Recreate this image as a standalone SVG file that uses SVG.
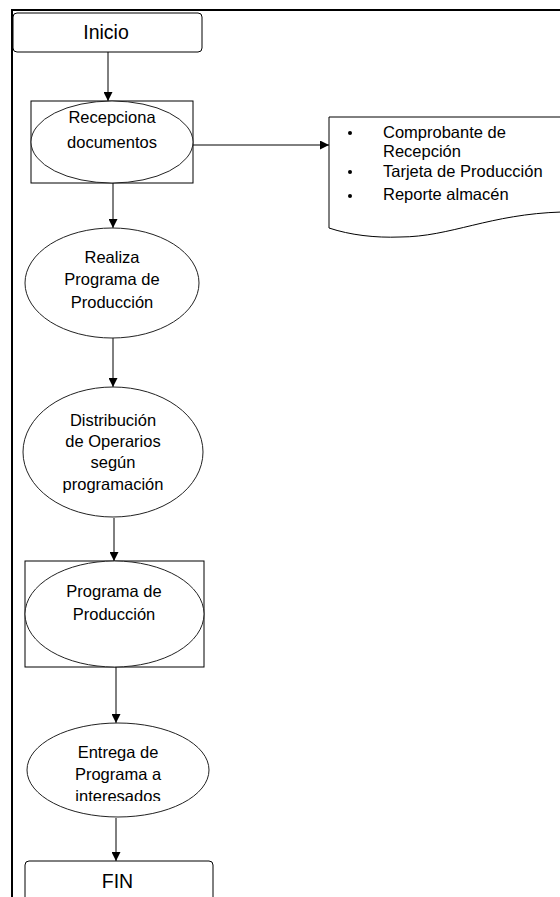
<svg xmlns="http://www.w3.org/2000/svg" width="560" height="897" viewBox="0 0 560 897">
  <style>
    .frame { fill: none; stroke: #000; stroke-width: 2; }
    .box { fill: #fff; stroke: #000; stroke-width: 1; }
    .ell { fill: #fff; stroke: #222; stroke-width: 1; }
    .conn { fill: none; stroke: #000; stroke-width: 1; }
    .txt { font-family: "Liberation Sans", Arial, sans-serif; font-size: 16.5px; fill: #000; text-anchor: middle; }
    .big { font-size: 19.5px; }
    .lst { text-anchor: start; }
  </style>
  <defs>
    <marker id="arrow" viewBox="0 0 10 10" refX="10" refY="5" markerWidth="9" markerHeight="9" markerUnits="userSpaceOnUse" orient="auto">
      <path d="M0,0 L10,5 L0,10 Z" fill="#000"/>
    </marker>
    <clipPath id="clipDist"><rect x="0" y="380" width="240" height="113"/></clipPath>
    <clipPath id="clipEnt"><rect x="0" y="720" width="240" height="81"/></clipPath>
  </defs>
  <rect width="560" height="897" fill="#fff"/>

  <!-- outer frame -->
  <path class="frame" d="M12,900 V10 H562"/>

  <!-- connectors -->
  <g id="connectors">
    <line class="conn" x1="108" y1="52" x2="108" y2="101" marker-end="url(#arrow)"/>
    <line class="conn" x1="193" y1="145" x2="329" y2="145" marker-end="url(#arrow)"/>
    <line class="conn" x1="113" y1="183" x2="113" y2="228" marker-end="url(#arrow)"/>
    <line class="conn" x1="113" y1="338" x2="113" y2="387" marker-end="url(#arrow)"/>
    <line class="conn" x1="114" y1="518" x2="114" y2="561" marker-end="url(#arrow)"/>
    <line class="conn" x1="116" y1="667" x2="116" y2="723" marker-end="url(#arrow)"/>
    <line class="conn" x1="116" y1="818" x2="116" y2="861" marker-end="url(#arrow)"/>
  </g>

  <g id="inicio">
    <rect class="box" x="13" y="13" width="189" height="39" rx="4"/>
    <text class="txt big" x="106" y="39">Inicio</text>
  </g>

  <g id="recepciona">
    <rect class="box" x="31" y="101" width="162" height="82"/>
    <ellipse class="ell" cx="112" cy="142" rx="81" ry="41"/>
    <text class="txt" x="112" y="123">Recepciona</text>
    <text class="txt" x="112" y="148">documentos</text>
  </g>

  <g id="documento">
    <path class="box" d="M329,117 H562 V212 C490,214 450,237 400,237 C375,238 350,235 329,228 Z"/>
    <circle cx="350" cy="133" r="2" fill="#000"/>
    <circle cx="350" cy="172" r="2" fill="#000"/>
    <circle cx="350" cy="196" r="2" fill="#000"/>
    <text class="txt lst" x="383" y="138">Comprobante de</text>
    <text class="txt lst" x="383" y="157">Recepción</text>
    <text class="txt lst" x="383" y="177">Tarjeta de Producción</text>
    <text class="txt lst" x="383" y="200">Reporte almacén</text>
  </g>

  <g id="realiza">
    <ellipse class="ell" cx="112" cy="283" rx="87" ry="55"/>
    <text class="txt" x="112" y="263">Realiza</text>
    <text class="txt" x="112" y="285">Programa de</text>
    <text class="txt" x="112" y="308">Producción</text>
  </g>

  <g id="distribucion">
    <ellipse class="ell" cx="113" cy="452" rx="90" ry="65"/>
    <g clip-path="url(#clipDist)">
      <text class="txt" x="113" y="426">Distribución</text>
      <text class="txt" x="113" y="447">de Operarios</text>
      <text class="txt" x="113" y="468">según</text>
      <text class="txt" x="113" y="490">programación</text>
    </g>
  </g>

  <g id="programa">
    <rect class="box" x="25" y="561" width="179" height="106"/>
    <ellipse class="ell" cx="114.5" cy="614" rx="89.5" ry="53"/>
    <text class="txt" x="114" y="597">Programa de</text>
    <text class="txt" x="114" y="620">Producción</text>
  </g>

  <g id="entrega">
    <ellipse class="ell" cx="118" cy="770" rx="91" ry="47"/>
    <g clip-path="url(#clipEnt)">
      <text class="txt" x="118" y="758">Entrega de</text>
      <text class="txt" x="118" y="780">Programa a</text>
      <text class="txt" x="118" y="802">interesados</text>
    </g>
  </g>

  <g id="fin">
    <path class="box" d="M25,900 V865 Q25,861 29,861 H209 Q213,861 213,865 V900"/>
    <text class="txt big" x="117.5" y="888">FIN</text>
  </g>
</svg>
